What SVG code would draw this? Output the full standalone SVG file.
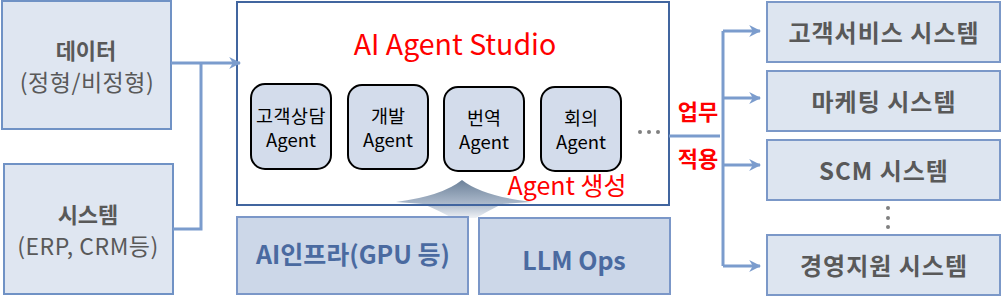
<svg xmlns="http://www.w3.org/2000/svg" width="1001" height="296" viewBox="0 0 1001 296">
<defs>
<style>
text{font-family:"Noto Sans CJK KR","Noto Sans",sans-serif;text-anchor:middle}
.src{fill:#dfe6f1;stroke:#7092c5;stroke-width:2}
.srcT{fill:#595959;font-size:22px}
.srcS{fill:#595959;font-size:23px}
.b{font-weight:bold}
.agent{fill:#d3dceb;stroke:#000;stroke-width:2}
.agentT{fill:#000;font-size:18.5px}
.infra{fill:#ccd7e8;stroke:#7b97c8;stroke-width:2}
.infraT{fill:#4a6aa0;font-size:25px;font-weight:bold}
.sys{fill:#dde5f0;stroke:#7b98c8;stroke-width:2}
.sysT{fill:#595959;font-size:24px;font-weight:bold;letter-spacing:1px}
.red{fill:#ff0000}
.conn{fill:none;stroke:#7b9ccd;stroke-width:3}
</style>
<marker id="ah" viewBox="0 0 10 10" refX="9" refY="5" markerWidth="4" markerHeight="4" orient="auto" markerUnits="strokeWidth">
<path d="M0,0 L10,5 L0,10 L3,5 Z" fill="#7b9ccd"/>
</marker>
<linearGradient id="upg" x1="0" y1="0" x2="0" y2="1">
<stop offset="0" stop-color="#6c8199"/>
<stop offset="0.6" stop-color="#a9b7c9"/>
<stop offset="1" stop-color="#eef1f5"/>
</linearGradient>
</defs>
<rect width="1001" height="296" fill="#fff"/>

<g id="data">
<rect class="src" x="2" y="1" width="169" height="128"/>
<text class="srcT b" x="86" y="59">데이터</text>
<text class="srcS" x="87" y="91" letter-spacing="0.5">(정형/비정형)</text>
</g>
<g id="system">
<rect class="src" x="4" y="164" width="169" height="130"/>
<text class="srcT b" x="88" y="223">시스템</text>
<text class="srcS" x="88" y="255" letter-spacing="0.5">(ERP, CRM등)</text>
</g>

<g id="studio">
<rect x="237" y="2" width="432" height="203" fill="#fff"/>
<path d="M462,180 Q442,196 396,202 L423,204 Q440,211 452,218 L476,218 Q488,211 502,204 L532,202 Q482,196 462,180 Z" fill="url(#upg)"/>
<rect x="237" y="2" width="432" height="203" fill="none" stroke="#41659f" stroke-width="2"/>
<text class="red" x="455" y="55" font-size="28.5">AI Agent Studio</text>
<text class="red" x="567" y="195" font-size="25">Agent 생성</text>
<circle cx="640" cy="132" r="2" fill="#808080"/>
<circle cx="649" cy="132" r="2" fill="#808080"/>
<circle cx="658" cy="132" r="2" fill="#808080"/>
</g>

<g id="agent1">
<rect class="agent" x="251" y="84" width="80" height="85" rx="14"/>
<text class="agentT" x="291" y="123" letter-spacing="0.5">고객상담</text>
<text class="agentT" x="291" y="147">Agent</text>
</g>
<g id="agent2">
<rect class="agent" x="348" y="85" width="80" height="84" rx="14"/>
<text class="agentT" x="388" y="123">개발</text>
<text class="agentT" x="388" y="147">Agent</text>
</g>
<g id="agent3">
<rect class="agent" x="444" y="87" width="80" height="84" rx="14"/>
<text class="agentT" x="484" y="125">번역</text>
<text class="agentT" x="484" y="149">Agent</text>
</g>
<g id="agent4">
<rect class="agent" x="541" y="87" width="80" height="84" rx="14"/>
<text class="agentT" x="581" y="125">회의</text>
<text class="agentT" x="581" y="149">Agent</text>
</g>

<g id="infra">
<rect class="infra" x="237" y="217" width="231" height="77"/>
<text class="infraT" x="353" y="264">AI인프라(GPU 등)</text>
</g>
<g id="llmops">
<rect class="infra" x="479" y="218" width="191" height="76"/>
<text class="infraT" x="574" y="270">LLM Ops</text>
</g>

<g id="sys1">
<rect class="sys" x="767" y="2" width="233" height="60"/>
<text class="sysT" x="884" y="42">고객서비스 시스템</text>
</g>
<g id="sys2">
<rect class="sys" x="767" y="71" width="233" height="60"/>
<text class="sysT" x="884" y="111">마케팅 시스템</text>
</g>
<g id="sys3">
<rect class="sys" x="767" y="140" width="233" height="60"/>
<text class="sysT" x="884" y="180">SCM 시스템</text>
</g>
<g id="sysdots">
<circle cx="888" cy="208" r="2" fill="#808080"/>
<circle cx="888" cy="218" r="2" fill="#808080"/>
<circle cx="888" cy="227" r="2" fill="#808080"/>
</g>
<g id="sys4">
<rect class="sys" x="767" y="235" width="233" height="60"/>
<text class="sysT" x="884" y="275">경영지원 시스템</text>
</g>

<g id="connectors">
<path class="conn" d="M171,63 L240,63" marker-end="url(#ah)"/>
<path class="conn" d="M173,229 L201,229 L201,63"/>
<path class="conn" d="M669,136 L720,136"/>
<path class="conn" d="M723,31 L723,266"/>
<path class="conn" d="M723,31 L760,31" marker-end="url(#ah)"/>
<path class="conn" d="M723,98 L760,98" marker-end="url(#ah)"/>
<path class="conn" d="M723,165 L760,165" marker-end="url(#ah)"/>
<path class="conn" d="M723,266 L760,266" marker-end="url(#ah)"/>
<text class="red b" x="698" y="120" font-size="22">업무</text>
<text class="red b" x="698" y="167" font-size="22">적용</text>
</g>
</svg>
